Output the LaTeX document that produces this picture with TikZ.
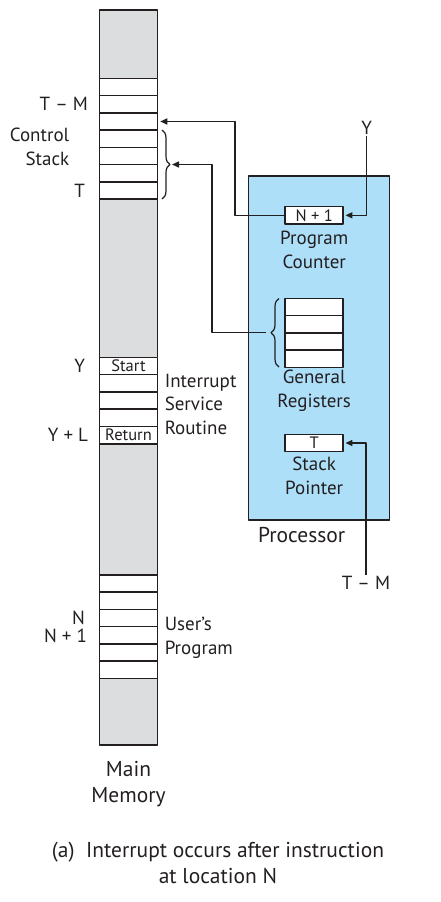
\documentclass[tikz,border=0pt]{standalone}
\usepackage{fontspec}
\setmainfont{PT Sans}
\usetikzlibrary{positioning,decorations.pathreplacing,arrows.meta}
\definecolor{memgray}{RGB}{220,221,223}
\definecolor{procblue}{RGB}{173,223,248}
\definecolor{ink}{RGB}{35,31,32}
\tikzset{
	cell/.style={draw=ink, fill=white, minimum width=58pt, minimum height=17.25pt, inner sep=0pt, font=\fontsize{16.5}{16.5}\selectfont},
	lbl/.style={inner sep=1pt, align=center, font=\fontsize{19}{23.5}\selectfont},
	biglbl/.style={inner sep=1pt, align=center, font=\fontsize{21.5}{26}\selectfont},
	curly/.style={decorate, decoration={brace, amplitude=8pt}, line width=1.2pt},
}
\begin{document}
\begin{tikzpicture}[x=1pt, y=-1pt, color=ink, line width=1.5pt, line join=round, >={Triangle[length=7pt,width=6pt]}]
		\useasboundingbox (0,0) rectangle (440,902);
		% main memory column
		\draw[fill=memgray] (99.5,10) rectangle (157.5,745);
		\foreach \i in {0,...,6} \node[cell] (cs\i) at (128.5,{87+17.25*\i}) {};
		\foreach \i/\t in {0/Start,1/,2/,3/,4/Return} \node[cell] (isr\i) at (128.5,{366+17.3*\i}) {\t};
		\foreach \i in {0,...,5} \node[cell] (up\i) at (128.5,{583.6+17.25*\i}) {};
		\node[lbl, left=9pt of cs1] (tm) {T – M};
		\node[lbl, left=12pt of cs6] (t) {T};
		\node[lbl, align=right, anchor=east] (ctl) at (71,147) {Control\\Stack};
		\node[lbl, left=12pt of isr0] (y) {Y};
		\node[lbl, left=9pt of isr4] (yl) {Y + L};
		\node[lbl, left=12pt of up2] (n) {N};
		\node[lbl, left=10pt of up3] (n1) {N + 1};
		\node[lbl, align=left, anchor=west] (isrtxt) at (163,404) {Interrupt\\Service\\Routine};
		\node[lbl, align=left, anchor=west] (uptxt) at (163,638) {User's\\Program};
		\node[biglbl] (mm) at (128.5,784) {Main\\Memory};
		% processor
		\node[draw, fill=procblue, minimum width=141pt, minimum height=344pt, inner sep=0pt] (proc) at (318.8,348) {};
		\node[biglbl] (proctxt) at (301.7,535) {Processor};
		\node[cell] (pc) at (314.2,215.3) {N + 1};
		\node[lbl] (pctxt) at (314.2,250) {Program\\Counter};
		\foreach \i in {0,...,3} \node[cell] (gr\i) at (314.2,{307+17.25*\i}) {};
		\node[lbl] (grtxt) at (314.2,390.5) {General\\Registers};
		\node[cell] (sp) at (314.2,443) {T};
		\node[lbl] (sptxt) at (314.2,476) {Stack\\Pointer};
		% braces
		\draw[curly] (162,130) -- (162,199);
		\draw[curly] (279,367) -- (279,298.5);
		\coordinate (cstip) at (172,164.5);
		\coordinate (grtip) at (266,332.7);
		% inputs
		\node[lbl] (yin) at (366.7,128) {Y};
		\node[lbl] (tmin) at (366,583) {T – M};
		\draw[->, shorten >=1.5pt] (yin) |- (pc);
		\draw[->, shorten >=1.5pt] (tmin) |- (sp);
		\draw[->, shorten >=2pt] (pc.west) -- ++(-49.5,0) |- (cs2.east);
		\draw[->] (grtip) -- ++(-54,0) |- (cstip);
		\node[biglbl, text depth=0pt] (cap) at (218,862.5) {(a)\ \ Interrupt occurs after instruction\\at location N};
\end{tikzpicture}
\end{document}
